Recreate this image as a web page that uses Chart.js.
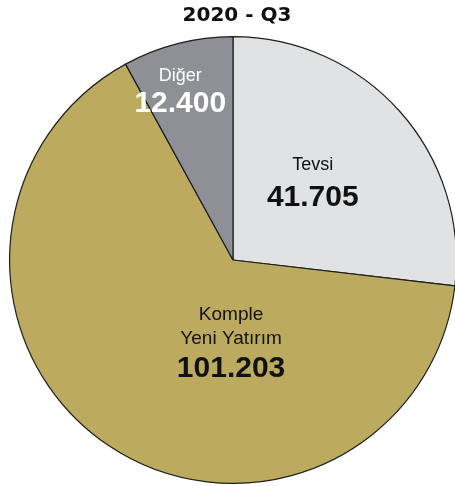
<!DOCTYPE html>
<html>
<head>
<meta charset="utf-8">
<script src="https://cdn.jsdelivr.net/npm/chart.js@4/dist/chart.umd.min.js"></script>
<style>
  html, body { margin: 0; padding: 0; background: #ffffff; overflow: hidden; }
  #wrap { position: absolute; left: 0; top: 0; width: 470px; height: 486px; }
</style>
</head>
<body>
<div id="wrap"><canvas id="c" width="470" height="486"></canvas></div>
<script>
const chartTitle = "2020 - Q3";
const categories = ["Tevsi", "Komple Yeni Yatırım", "Diğer"];
const labelLines = [["Tevsi"], ["Komple", "Yeni Yatırım"], ["Diğer"]];
const values = [41.705, 101.203, 12.400];
const valueLabels = ["41.705", "101.203", "12.400"];
const sliceColors = ["#e1e2e4", "#bcaa5e", "#8f9095"];
const labelColors = ["#111111", "#111111", "#ffffff"];

// label placement per slice: angle offset (deg) from arc mid, radius fraction, line offsets
const labelPlacement = [
  { angle: -3, r: 0.502, nameDy: [-16], valueDy: 16.5, nameSize: 18 },
  { angle: -32.6, r: 0.366, nameDy: [-27, -3], valueDy: 27, nameSize: 19 },
  { angle: -2.9, r: 0.795, nameDy: [-14], valueDy: 13, nameSize: 18 }
];

const labelPlugin = {
  id: 'sliceLabels',
  afterDatasetsDraw(chart) {
    const ctx = chart.ctx;
    const meta = chart.getDatasetMeta(0);
    ctx.save();
    ctx.textAlign = 'center';
    ctx.textBaseline = 'middle';
    meta.data.forEach((arc, i) => {
      const p = labelPlacement[i];
      const a = (arc.startAngle + arc.endAngle) / 2 + p.angle * Math.PI / 180;
      const x = arc.x + Math.cos(a) * arc.outerRadius * p.r;
      const y = arc.y + Math.sin(a) * arc.outerRadius * p.r;
      ctx.fillStyle = labelColors[i];
      ctx.font = p.nameSize + 'px "Liberation Sans", Arial, sans-serif';
      labelLines[i].forEach((t, k) => ctx.fillText(t, x, y + p.nameDy[k]));
      ctx.font = 'bold 30px "Liberation Sans", Arial, sans-serif';
      ctx.fillText(valueLabels[i], x, y + p.valueDy);
    });
    ctx.restore();
  }
};

const titlePlugin = {
  id: 'topTitle',
  afterDraw(chart) {
    const ctx = chart.ctx;
    const ca = chart.chartArea;
    ctx.save();
    ctx.textAlign = 'center';
    ctx.textBaseline = 'middle';
    ctx.fillStyle = '#111111';
    ctx.font = 'bold 20px "DejaVu Sans", sans-serif';
    ctx.fillText(chartTitle, (ca.left + ca.right) / 2 + 4, 16);
    ctx.restore();
  }
};

new Chart(document.getElementById('c'), {
  type: 'pie',
  data: {
    labels: categories,
    datasets: [{
      data: values,
      backgroundColor: sliceColors,
      borderColor: '#1e1e1e',
      borderWidth: 1.2
    }]
  },
  options: {
    responsive: false,
    devicePixelRatio: 1,
    animation: false,
    layout: { padding: { top: 36, bottom: 2, left: 9, right: 13 } },
    plugins: {
      legend: { display: false },
      title: { display: false },
      tooltip: { enabled: false }
    }
  },
  plugins: [labelPlugin, titlePlugin]
});
</script>
</body>
</html>
